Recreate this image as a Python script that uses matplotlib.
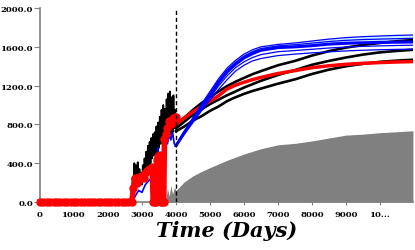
import matplotlib
matplotlib.use("Agg")
import matplotlib.pyplot as plt

# --- history (observed / simulated) ---
obs_days = [2700, 2725, 2750, 2775, 2800, 2825, 2850, 2875, 2900, 2925, 2950, 2975,
            3000, 3025, 3050, 3075, 3100, 3125, 3150, 3175, 3200, 3225, 3250, 3275,
            3300, 3325, 3350, 3375, 3400, 3425, 3450, 3475, 3500, 3525, 3550, 3575,
            3600, 3625, 3650, 3675, 3700, 3725, 3750, 3775, 3800, 3825, 3850, 3875,
            3900, 3925, 3950, 3975, 4000]
obs_rate = [0, 250, 80, 400, 150, 380, 200, 410, 220, 340, 200, 300,
            180, 380, 240, 450, 300, 520, 320, 580, 380, 620, 400, 660,
            450, 700, 480, 720, 500, 780, 540, 820, 560, 880, 600, 950,
            620, 1000, 650, 960, 700, 1060, 720, 1120, 740, 1140, 700, 1080,
            720, 1100, 760, 950, 820]

red_hist_days = [0, 100, 200, 300, 400, 500, 600, 700, 800, 900, 1000, 1100, 1200,
                 1300, 1400, 1500, 1600, 1700, 1800, 1900, 2000, 2100, 2200, 2300,
                 2400, 2500, 2600, 2700, 2750, 2800, 2850, 2900, 2950, 3000, 3050,
                 3100, 3150, 3200, 3250, 3300, 3330, 3370, 3400, 3430, 3480, 3530,
                 3560, 3600, 3640, 3660, 3700, 3750, 3800, 3850, 3900, 3950, 4000]
red_hist_rate = [0, 0, 0, 0, 0, 0, 0, 0, 0, 0, 0, 0, 0,
                 0, 0, 0, 0, 0, 0, 0, 0, 0, 0, 0,
                 0, 0, 0, 0, 150, 250, 200, 260, 240, 270, 250,
                 300, 320, 340, 330, 360, 0, 0, 0, 430, 470, 480,
                 0, 0, 0, 650, 700, 760, 840, 800, 870, 850, 880]

blue_hist_days = [2700, 2800, 2900, 3000, 3100, 3200, 3300, 3400, 3460, 3470, 3500,
                  3600, 3660, 3690, 3750, 3800, 3850, 3900, 3950, 4000]
blue_hist_rate = [0, 60, 120, 100, 180, 220, 260, 300, 150, 560, 380,
                  420, 0, 640, 600, 700, 640, 720, 600, 580]

# --- forecast cases ---
fc_days = [4000, 4250, 4500, 4750, 5000, 5250, 5500, 5750, 6000, 6250, 6500,
           7000, 7500, 8000, 8500, 9000, 9500, 10000, 10500, 10970]
black_a = [780, 870, 950, 1020, 1080, 1140, 1195, 1240, 1280, 1318, 1350,
           1410, 1455, 1510, 1556, 1592, 1620, 1640, 1658, 1670]
black_b = [760, 830, 900, 955, 1010, 1055, 1100, 1140, 1180, 1215, 1250,
           1310, 1360, 1415, 1455, 1490, 1520, 1543, 1558, 1570]
black_c = [730, 780, 840, 885, 940, 985, 1040, 1080, 1115, 1145, 1170,
           1220, 1265, 1320, 1365, 1400, 1425, 1445, 1458, 1467]
red_fc = [800, 870, 930, 985, 1040, 1095, 1165, 1205, 1235, 1262, 1285,
          1325, 1355, 1385, 1405, 1420, 1430, 1438, 1444, 1448]
blue_top = [580, 730, 870, 1010, 1140, 1270, 1380, 1460, 1525, 1570, 1600,
            1625, 1640, 1660, 1680, 1695, 1705, 1712, 1718, 1722]
blue_up = [580, 725, 860, 995, 1120, 1250, 1360, 1440, 1505, 1550, 1582,
           1610, 1622, 1638, 1655, 1667, 1675, 1680, 1684, 1688]
blue_mid = [580, 720, 850, 980, 1100, 1230, 1340, 1420, 1485, 1530, 1565,
            1592, 1600, 1612, 1628, 1637, 1642, 1646, 1648, 1650]
blue_lowmid = [580, 710, 835, 960, 1075, 1195, 1300, 1385, 1445, 1490, 1520,
               1550, 1562, 1575, 1588, 1598, 1605, 1610, 1614, 1617]
blue_low = [580, 700, 820, 940, 1050, 1160, 1260, 1350, 1410, 1455, 1480,
            1510, 1525, 1538, 1548, 1558, 1565, 1570, 1574, 1577]

gray_days = [3600, 3650, 3700, 3750, 3800, 3850, 3900, 3950, 4000, 4250, 4500,
             4750, 5000, 5500, 6000, 6500, 7000, 7500, 8000, 8500, 9000, 9500,
             10000, 10500, 10970]
gray_vals = [0, 90, 30, 140, 60, 170, 80, 150, 120, 210, 270,
             315, 355, 430, 495, 550, 590, 605, 630, 660, 690, 700,
             715, 725, 735]

x_ticks = [0, 1000, 2000, 3000, 4000, 5000, 6000, 7000, 8000, 9000, 10000]
x_tick_labels = ["0", "1000", "2000", "3000", "4000", "5000", "6000", "7000",
                 "8000", "9000", "10..."]
y_ticks = [0, 400, 800, 1200, 1600, 2000]

fig = plt.figure(figsize=(4.15, 2.51), dpi=100)
ax = fig.add_axes([0.0964, 0.191, 0.8986, 0.773])

ax.fill_between(gray_days, 0, gray_vals, color="#808080", lw=0, zorder=1)

ax.plot(obs_days, obs_rate, color="black", lw=1.3, zorder=2)
ax.plot(blue_hist_days, blue_hist_rate, color="#0000ff", lw=1.2, zorder=3)
ax.plot(red_hist_days, red_hist_rate, color="red", lw=4, marker="o",
        markersize=5, zorder=4, clip_on=False)

ax.fill_between(fc_days, blue_mid, blue_top, color="#c8f0ff", lw=0, zorder=2)
for ys in [black_a, black_b, black_c]:
    ax.plot(fc_days, ys, color="black", lw=1.9, zorder=3)
ax.plot(fc_days, red_fc, color="red", lw=2.5, zorder=4)
for ys in [blue_top, blue_up, blue_lowmid, blue_low]:
    ax.plot(fc_days, ys, color="#0000ff", lw=0.9, zorder=5)
ax.plot(fc_days, blue_mid, color="#0000ff", lw=2.2, zorder=5)

ax.axvline(4000, color="black", lw=1, ls=(0, (3, 2)), zorder=6)

ax.set_xlim(0, 10970)
ax.set_ylim(0, 2000)
ax.set_xticks(x_ticks)
ax.set_xticklabels(x_tick_labels)
ax.set_yticks(y_ticks)
ax.set_yticklabels([f"{v:.1f}" for v in y_ticks])

for s in ["top", "right"]:
    ax.spines[s].set_visible(False)
for s in ["left", "bottom"]:
    ax.spines[s].set_color("#808080")
    ax.spines[s].set_linewidth(1.2)
ax.tick_params(axis="y", length=4, width=0.8, color="#808080", pad=1)
ax.tick_params(axis="x", length=2.5, width=0.8, color="#808080", pad=3)
for lab in ax.get_xticklabels() + ax.get_yticklabels():
    lab.set_fontfamily("DejaVu Serif")
    lab.set_fontweight("bold")
    lab.set_fontsize(6.1)

ax.set_xlabel("Time (Days)", fontfamily="DejaVu Serif", fontweight="bold",
              fontstyle="italic", fontsize=15, labelpad=2)

fig.savefig("out.png", dpi=100)
